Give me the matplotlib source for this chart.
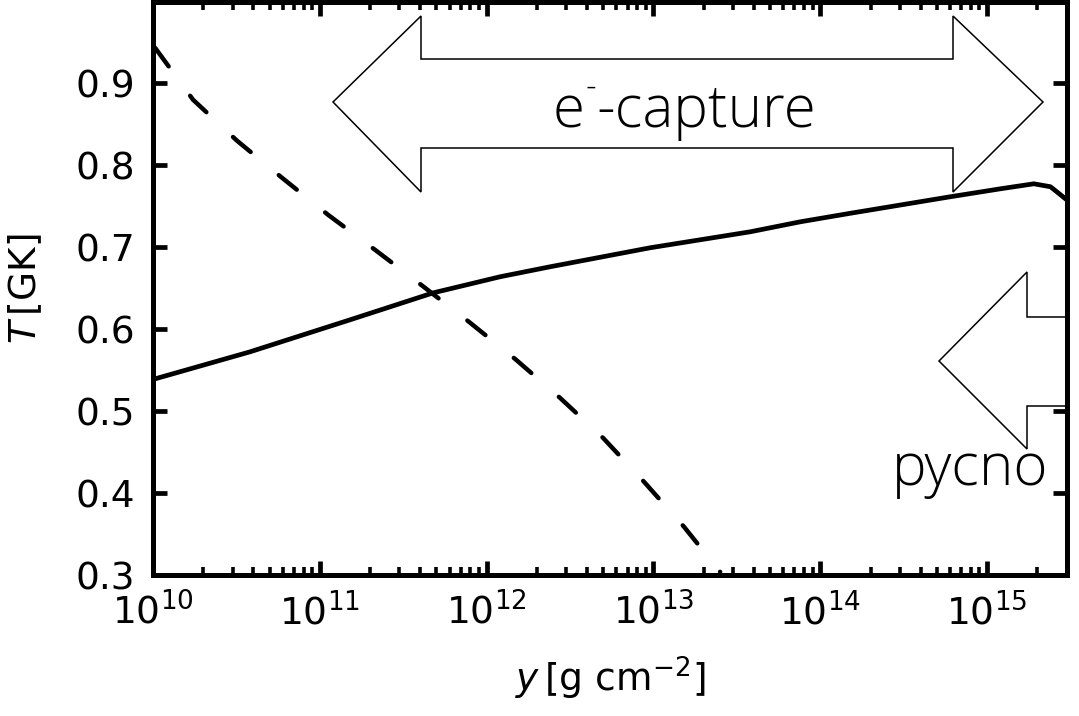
import matplotlib.pyplot as plt
from matplotlib.patches import Polygon
import numpy as np

# column density y [g cm^-2] (log10) and temperature T [GK]
solid_logy = [10.012, 10.58, 11.18, 11.68, 12.08, 12.38, 12.98, 13.58, 13.88,
              14.18, 14.78, 15.08, 15.28, 15.38, 15.44, 15.477]
solid_T = [0.5394, 0.5723, 0.6114, 0.6444, 0.6640, 0.6762, 0.6994, 0.7189, 0.7311,
           0.7415, 0.7617, 0.7714, 0.7775, 0.7739, 0.7641, 0.7580]

dashed_logy = [10.012, 10.240, 10.504, 10.773, 11.049, 11.331, 11.607, 11.894,
               12.170, 12.440, 12.698, 12.944, 13.184, 13.40]
dashed_T = [0.9436, 0.8801, 0.8300, 0.7849, 0.7397, 0.6969, 0.6542, 0.6090,
            0.5638, 0.5162, 0.4673, 0.4136, 0.3586, 0.3037]

W, H = 1079, 716
fig = plt.figure(figsize=(W / 100, H / 100), dpi=100)
ax = fig.add_axes([153 / W, 1 - 575 / H, (1066.7 - 153) / W, (575 - 1.5) / H])

ax.plot(10 ** np.array(solid_logy), solid_T, color='k', lw=3.4,
        solid_joinstyle='round')
ax.plot(10 ** np.array(dashed_logy), dashed_T, color='k', lw=3.2,
        ls=(0, (5.2, 8.2)), dash_capstyle='round')

ax.set_xscale('log')
ax.set_xlim(1e10, 3e15)
ax.set_ylim(0.3, 1.0)
ax.set_yticks([0.3, 0.4, 0.5, 0.6, 0.7, 0.8, 0.9])
ax.set_xticks([1e10, 1e11, 1e12, 1e13, 1e14, 1e15])

for s in ax.spines.values():
    s.set_linewidth(3.6)
ax.tick_params(which='both', direction='in', top=True, right=True, labelsize=27, pad=13)
ax.tick_params(which='major', length=10, width=3.4)
ax.tick_params(which='minor', length=6, width=2.6)

ax.set_xlabel(r'$y\,[\mathrm{g\ cm^{-2}}]$', fontsize=27, labelpad=16)
ax.set_ylabel(r'$T\,[\mathrm{GK}]$', fontsize=27, labelpad=22)


def px(pts):
    return [(x / W, 1 - y / H) for x, y in pts]


# block arrows (outline in figure pixels): e- capture both ways, pycno to the left
ecap = px([(333, 102), (421, 16), (421, 59), (953, 59), (953, 16), (1043, 102),
           (953, 192), (953, 148), (421, 148), (421, 192)])
pyc = px([(939, 361), (1027, 272), (1027, 317), (1067, 317), (1067, 406),
          (1027, 406), (1027, 449)])
for poly in (ecap, pyc):
    ax.add_patch(Polygon(poly, closed=True, facecolor='white', edgecolor='k',
                         lw=1.1, transform=fig.transFigure, zorder=2.2,
                         clip_on=False))

txt_font = ['Open Sans', 'DejaVu Sans']
t_e = fig.text(553 / W, 1 - 127 / H, 'e', fontsize=42, family=txt_font,
               weight='light', ha='left', va='baseline')
t_sup = ax.annotate('-', xy=(1.02, 0.62), xycoords=t_e, fontsize=24,
                    family=txt_font, weight='light', ha='left', va='bottom')
ax.annotate('-capture', xy=(1.0, 0.0), xycoords=(t_sup, t_e), fontsize=42,
            family=txt_font, weight='light', ha='left', va='bottom')
fig.text(970 / W, 1 - 485 / H, 'pycno', fontsize=42, family=txt_font,
         weight='light', ha='center', va='baseline')

fig.savefig('out.png', dpi=100)
